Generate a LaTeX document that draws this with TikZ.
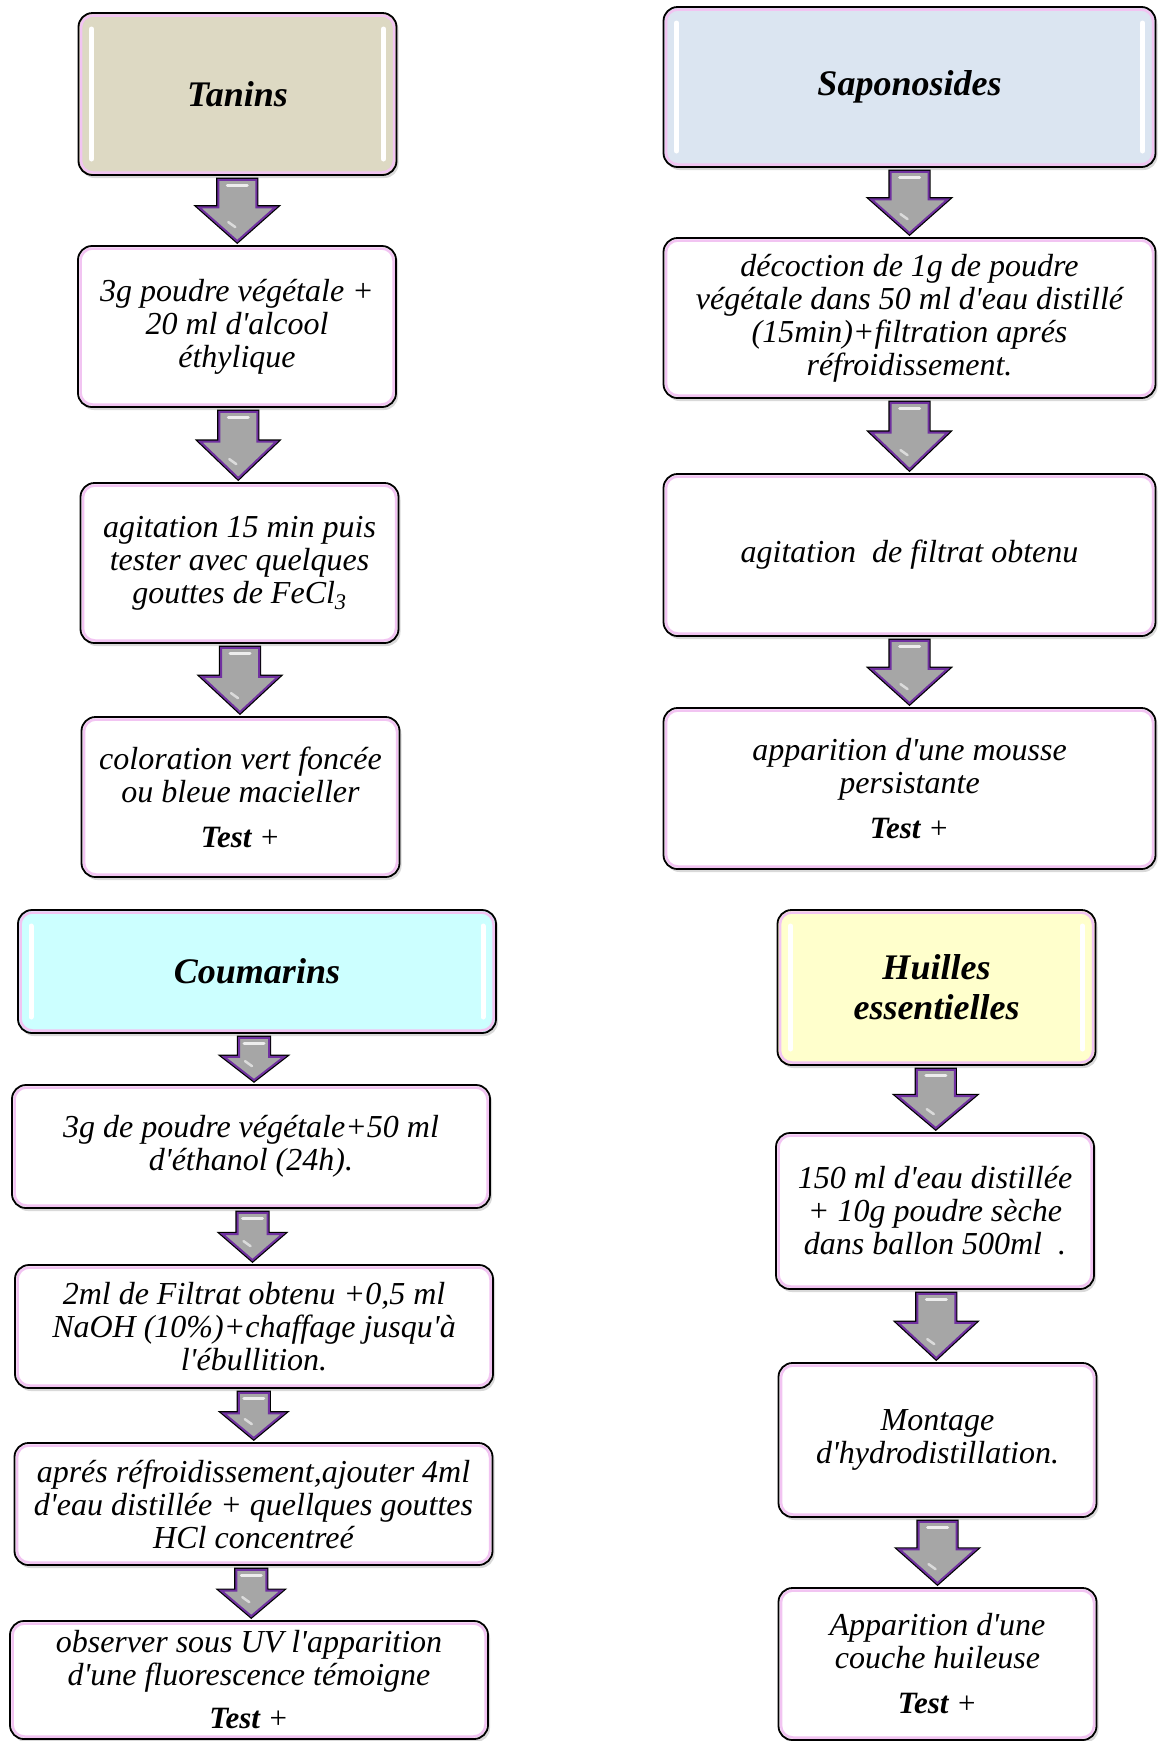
\documentclass[tikz,border=0pt]{standalone}
\usepackage{fontspec}
\setmainfont{Liberation Serif}
\newfontfamily\boxfont{Liberation Serif}
\usetikzlibrary{calc,shadows}

\definecolor{tancol}{RGB}{221,217,195}
\definecolor{sapcol}{RGB}{219,229,241}
\definecolor{coucol}{RGB}{204,255,255}
\definecolor{huicol}{RGB}{255,255,204}
\definecolor{rim}{RGB}{242,196,242}
\definecolor{arrowgray}{RGB}{166,166,166}
\definecolor{arrowrim}{RGB}{112,48,160}

% last line of a result box
\newcommand\testplus{{\fontsize{31}{33}\selectfont\textbf{Test} +}}

% pink line just inside a box border
\newcommand\innerrim{\draw[rim, line width=2.5pt, rounded corners=12pt]
  ([shift={(2.5pt,2.5pt)}]path picture bounding box.south west) rectangle
  ([shift={(-2.5pt,-2.5pt)}]path picture bounding box.north east);}
% white highlights along the sides of a title box
\newcommand\gloss{\foreach \s/\a/\b in {13/north west/south west,-13/north east/south east}
  \draw[white, line width=5pt, line cap=round]
    ([shift={(\s pt,-16pt)}]path picture bounding box.\a) --
    ([shift={(\s pt,16pt)}]path picture bounding box.\b);}
% shine on the block arrows
\newcommand\shine{%
  \draw[white, opacity=.8, line width=3pt, line cap=round]
    ([shift={(-10pt,-6pt)}]path picture bounding box.north) --
    ([shift={(10pt,-6pt)}]path picture bounding box.north);
  \draw[white, opacity=.6, line width=2.5pt, line cap=round]
    ([shift={(-9pt,19pt)}]path picture bounding box.south) --
    ([shift={(-2pt,14pt)}]path picture bounding box.south);}

% block arrow from the bottom of #1 to the top of #2, half widths #3 (shaft), #4 (head)
\newcommand\flowarrow[4]{%
  \draw[flow] let \p1=(#1.south), \p2=(#2.north),
    \n1={(\x1+\x2)/2}, \n2={\y1-4pt}, \n3={\y2+4pt},
    \n4={\y1-4pt-0.45*(\y1-\y2-8pt)} in
    (\n1-#3,\n2) -- (\n1+#3,\n2) -- (\n1+#3,\n4) -- (\n1+#4,\n4) -- (\n1,\n3)
    -- (\n1-#4,\n4) -- (\n1-#3,\n4) -- cycle;}

\begin{document}
\begin{tikzpicture}[x=1pt, y=-1pt,
  stepbox/.style={draw, line width=1.8pt, rounded corners=14pt, fill=white,
    inner sep=0pt, align=center, font=\boxfont\fontsize{32}{33}\selectfont\itshape,
    drop shadow={shadow xshift=2pt, shadow yshift=-3pt, opacity=.3},
    path picture={\innerrim}},
  headbox/.style={stepbox, fill=#1,
    font=\boxfont\fontsize{36}{40}\selectfont\bfseries\itshape,
    path picture={\innerrim\gloss}},
  narrow/.style={minimum width=318pt},
  wide/.style={minimum width=492pt},
  mid/.style={minimum width=478pt},
  flow/.style={fill=arrowgray, draw=arrowrim, line width=2pt,
    preaction={draw=black, line width=4.4pt}, path picture={\shine}}]
\useasboundingbox (0,0) rectangle (1158,1741);

% Tanins
\node[headbox=tancol, narrow, minimum height=162pt] (tan0) at (237.5,94) {Tanins};
\node[stepbox, narrow, minimum height=161pt] (tan1) at (237,326.5)
  {3g poudre végétale +\\20 ml d'alcool\\éthylique};
\node[stepbox, narrow, minimum height=160pt] (tan2) at (239.5,563)
  {agitation 15 min puis\\tester avec quelques\\gouttes de FeCl\textsubscript{3}};
\node[stepbox, narrow, minimum height=160pt] (tan3) at (240.5,797)
  {coloration vert foncée\\ou bleue macieller\\[12pt]\testplus};

% Saponosides
\node[headbox=sapcol, wide, minimum height=160pt] (sap0) at (909.5,87) {Saponosides};
\node[stepbox, wide, minimum height=160pt] (sap1) at (909.5,318)
  {décoction de 1g de poudre\\végétale dans 50 ml d'eau distillé\\(15min)+filtration aprés\\réfroidissement.};
\node[stepbox, wide, minimum height=162pt] (sap2) at (909.5,555)
  {agitation\ \ de filtrat obtenu};
\node[stepbox, wide, minimum height=161pt] (sap3) at (909.5,788.5)
  {apparition d'une mousse\\persistante\\[12pt]\testplus};

% Coumarins
\node[headbox=coucol, mid, minimum height=123pt] (cou0) at (257,971.5) {Coumarins};
\node[stepbox, mid, minimum height=123pt] (cou1) at (251,1146.5)
  {3g de poudre végétale+50 ml\\d'éthanol (24h).};
\node[stepbox, mid, minimum height=123pt] (cou2) at (254,1326.5)
  {2ml de Filtrat obtenu +0,5 ml\\NaOH (10\%)+chaffage jusqu'à\\l'ébullition.};
\node[stepbox, mid, minimum height=122pt] (cou3) at (253.5,1504)
  {aprés réfroidissement,ajouter 4ml\\d'eau distillée + quellques gouttes\\HCl concentreé};
\node[stepbox, mid, minimum height=118pt] (cou4) at (249,1680)
  {observer sous UV l'apparition\\d'une fluorescence témoigne\\[10pt]\testplus};

% Huilles essentielles
\node[headbox=huicol, narrow, minimum height=155pt] (hui0) at (936.5,987.5)
  {Huilles\\essentielles};
\node[stepbox, narrow, minimum height=156pt] (hui1) at (935,1211)
  {150 ml d'eau distillée\\+ 10g poudre sèche\\dans ballon 500ml\ \ .};
\node[stepbox, narrow, minimum height=154pt] (hui2) at (937.5,1440)
  {Montage\\d'hydrodistillation.};
\node[stepbox, narrow, minimum height=152pt] (hui3) at (937.5,1664)
  {Apparition d'une\\couche huileuse\\[12pt]\testplus};

\foreach \i/\j in {0/1,1/2,2/3} {
  \flowarrow{tan\i}{tan\j}{19pt}{38pt}
  \flowarrow{sap\i}{sap\j}{19pt}{38pt}
  \flowarrow{hui\i}{hui\j}{19pt}{38pt}
}
\foreach \i/\j in {0/1,1/2,2/3,3/4}
  \flowarrow{cou\i}{cou\j}{15pt}{30pt};
\end{tikzpicture}
\end{document}
